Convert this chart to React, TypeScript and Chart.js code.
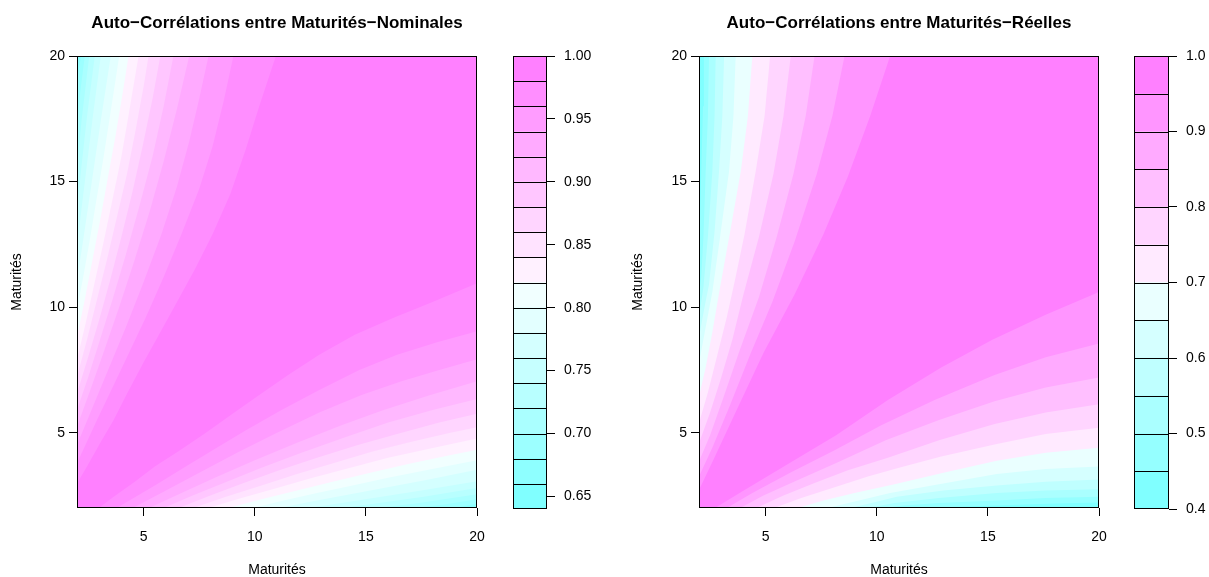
import React, { useEffect, useRef } from "react";
import { Chart, registerables } from "chart.js";

Chart.register(...registerables);

type Pt = [number, number];

const FONT = "'Liberation Sans', Arial, Helvetica, sans-serif";

// ---------------- data ----------------
const maturityRange: [number, number] = [2, 20];
const maturityTicks = [5, 10, 15, 20];

const nominalTitle = "Auto\u2212Corrélations entre Maturités\u2212Nominales";
const realTitle = "Auto\u2212Corrélations entre Maturités\u2212Réelles";
const axisLabel = "Maturités";

// contour levels (colour key boundaries)
const nominalLevels = [0.64, 0.66, 0.68, 0.7, 0.72, 0.74, 0.76, 0.78, 0.8, 0.82, 0.84, 0.86, 0.88, 0.9, 0.92, 0.94, 0.96, 0.98, 1.0];
const nominalKeyTicks = [0.65, 0.7, 0.75, 0.8, 0.85, 0.9, 0.95, 1.0];

const realLevels = [0.4, 0.45, 0.5, 0.55, 0.6, 0.65, 0.7, 0.75, 0.8, 0.85, 0.9, 0.95, 1.0];
const realKeyTicks = [0.4, 0.5, 0.6, 0.7, 0.8, 0.9, 1.0];

// Iso-correlation lines (maturité x, maturité y), read in the upper-left half
// of each (symmetric) correlation matrix. Entry i is the line at level i+1.
const nominalContours: Pt[][] = [
  /* 0.66 */ [[2, 19.7], [2.05, 20]],
  /* 0.68 */ [[2, 19.0], [2.18, 20]],
  /* 0.70 */ [[2, 17.2], [2.15, 18.6], [2.35, 20]],
  /* 0.72 */ [[2, 15.5], [2.2, 17.4], [2.55, 20]],
  /* 0.74 */ [[2, 13.9], [2.2, 15.6], [2.45, 17.6], [2.8, 20]],
  /* 0.76 */ [[2, 12.4], [2.2, 13.9], [2.45, 15.7], [2.7, 17.5], [3.07, 20]],
  /* 0.78 */ [[2, 11.1], [2.25, 12.5], [2.5, 14], [2.8, 15.8], [3.1, 17.6], [3.52, 20]],
  /* 0.80 */ [[2, 9.9], [2.3, 11.3], [2.6, 12.8], [2.9, 14.4], [3.2, 16], [3.5, 17.7], [3.9, 20]],
  /* 0.82 */ [[2, 8.8], [2.35, 10.3], [2.7, 11.9], [3.05, 13.5], [3.4, 15.2], [3.75, 16.9], [4.05, 18.5], [4.32, 20]],
  /* 0.84 */ [[2, 7.9], [2.4, 9.4], [2.8, 11], [3.2, 12.6], [3.6, 14.3], [4.0, 16], [4.35, 17.8], [4.77, 20]],
  /* 0.86 */ [[2, 7.23], [2.45, 8.7], [2.9, 10.3], [3.35, 11.9], [3.8, 13.6], [4.25, 15.3], [4.65, 17.1], [5.0, 18.8], [5.22, 20]],
  /* 0.88 */ [[2, 6.57], [2.5, 8.0], [3.0, 9.5], [3.5, 11.1], [4.0, 12.8], [4.5, 14.6], [4.95, 16.4], [5.4, 18.3], [5.75, 20]],
  /* 0.90 */ [[2, 5.9], [2.5, 7.2], [3.0, 8.6], [3.6, 10.3], [4.2, 12.1], [4.8, 14], [5.4, 16], [5.9, 18], [6.34, 20]],
  /* 0.92 */ [[2, 5.24], [2.6, 6.7], [3.2, 8.2], [3.9, 10], [4.6, 11.9], [5.3, 13.9], [5.9, 15.8], [6.5, 17.9], [7.05, 20]],
  /* 0.94 */ [[2, 4.51], [2.7, 6.0], [3.4, 7.5], [4.2, 9.2], [5.0, 11], [5.8, 12.9], [6.5, 14.8], [7.05, 16.6], [7.5, 18.3], [7.92, 20]],
  /* 0.96 */ [[2, 3.78], [2.9, 5.5], [3.6, 6.8], [4.3, 8.1], [5.1, 9.6], [5.9, 11.2], [6.7, 12.9], [7.5, 14.7], [8.1, 16.4], [8.6, 18.2], [9.04, 20]],
  /* 0.98 */ [[2, 2.98], [2.45, 3.65], [3.05, 4.6], [3.65, 5.5], [4.25, 6.55], [5.0, 7.8], [5.75, 9.0], [6.5, 10.2], [7.3, 11.5], [8.1, 12.9], [8.9, 14.5], [9.6, 16.3], [10.2, 18], [10.95, 20]],
];

const realContours: Pt[][] = [
  /* 0.45 */ [[2, 12], [2.06, 14], [2.12, 16], [2.18, 18], [2.22, 20]],
  /* 0.50 */ [[2, 10.4], [2.1, 11.2], [2.2, 12.8], [2.3, 15.4], [2.4, 17.6], [2.45, 20]],
  /* 0.55 */ [[2, 9.6], [2.2, 10.8], [2.4, 12.8], [2.6, 15.4], [2.7, 17.6], [2.75, 20]],
  /* 0.60 */ [[2, 8.8], [2.25, 10], [2.45, 10.9], [2.7, 13], [2.9, 15.4], [3.05, 17.6], [3.13, 20]],
  /* 0.65 */ [[2, 7.77], [2.3, 9.2], [2.6, 10.6], [2.95, 12.8], [3.35, 15.4], [3.55, 17.6], [3.65, 20]],
  /* 0.70 */ [[2, 6.44], [2.3, 7.6], [2.6, 9.0], [2.95, 10.8], [3.4, 13], [3.88, 15.4], [4.2, 17.6], [4.4, 20]],
  /* 0.75 */ [[2, 5.38], [2.4, 6.6], [2.8, 8.0], [3.25, 9.6], [3.6, 11], [4.05, 12.9], [4.55, 15.4], [4.95, 17.6], [5.2, 20]],
  /* 0.80 */ [[2, 4.58], [2.5, 5.8], [3.0, 7.2], [3.5, 8.7], [4.0, 10.5], [4.7, 12.8], [5.35, 15.3], [5.8, 17.6], [6.13, 20]],
  /* 0.85 */ [[2, 3.85], [2.5, 4.9], [3.1, 6.4], [3.8, 8.2], [4.7, 10.4], [5.5, 12.8], [6.25, 15.3], [6.8, 17.6], [7.2, 20]],
  /* 0.90 */ [[2, 3.25], [2.6, 4.4], [3.4, 6.1], [4.3, 8.1], [5.3, 10.2], [6.3, 12.6], [7.3, 15.3], [8.0, 17.6], [8.55, 20]],
  /* 0.95 */ [[2, 2.72], [2.65, 3.92], [3.7, 5.91], [4.9, 8.17], [6.3, 10.5], [7.6, 12.9], [8.7, 15.2], [9.7, 17.6], [10.6, 20]],
];

// ---------------- helpers ----------------
// R's cm.colors(n)
function cmColors(n: number): string[] {
  const even = n % 2 === 0;
  const k = Math.floor(n / 2);
  const l1 = k + 1 - (even ? 1 : 0);
  const l2 = n - k + (even ? 1 : 0);
  const sEnd = even ? 0.5 / k : 0;
  const cols: string[] = [];
  for (let i = 0; i < l1; i++) {
    const s = l1 === 1 ? 0.5 : 0.5 + ((sEnd - 0.5) * i) / (l1 - 1);
    const c = Math.round(255 * (1 - s));
    cols.push(`rgb(${c},255,255)`);
  }
  for (let i = 1; i < l2; i++) {
    const s = (0.5 * i) / (l2 - 1);
    const c = Math.round(255 * (1 - s));
    cols.push(`rgb(255,${c},255)`);
  }
  return cols;
}

function bandDatasets(contours: Pt[][], colors: string[]) {
  const [lo, hi] = maturityRange;
  const outLo = lo - 10;
  const outHi = hi + 10;
  const ds: any[] = [];
  // lowest level first => drawn last (on top)
  contours.forEach((pts, i) => {
    const first = pts[0];
    const last = pts[pts.length - 1];
    const upper: Pt[] = [...pts, [last[0], outHi], [outLo, outHi], [outLo, first[1]]];
    const lower: Pt[] = upper.map(([x, y]) => [y, x] as Pt); // symmetric matrix
    for (const poly of [upper, lower]) {
      ds.push({
        data: poly.map(([x, y]) => ({ x, y })),
        backgroundColor: colors[i],
        borderColor: "rgba(0,0,0,0)",
        borderWidth: 0,
        pointRadius: 0,
        pointHoverRadius: 0,
        fill: "shape",
        tension: 0,
      });
    }
  });
  return ds;
}

const framePlugin = {
  id: "frame",
  afterDraw(chart: any) {
    const { ctx, chartArea: a } = chart;
    ctx.save();
    ctx.strokeStyle = "#000";
    ctx.lineWidth = 1;
    ctx.strokeRect(Math.round(a.left) + 0.5, Math.round(a.top) + 0.5, Math.round(a.right - a.left) - 1, Math.round(a.bottom - a.top) - 1);
    ctx.restore();
  },
};

function makeMain(canvas: HTMLCanvasElement, title: string, levels: number[], contours: Pt[][], yWidth: number, rightPad: number, yTitlePad: number) {
  const colors = cmColors(levels.length - 1);
  const topColor = colors[colors.length - 1];
  const bg = {
    id: "bg",
    beforeDatasetsDraw(chart: any) {
      const { ctx, chartArea: a } = chart;
      ctx.save();
      ctx.fillStyle = topColor;
      ctx.fillRect(a.left, a.top, a.right - a.left, a.bottom - a.top);
      ctx.restore();
    },
  };
  const tickFont = { family: FONT, size: 14 };
  return new Chart(canvas, {
    type: "line",
    data: { datasets: bandDatasets(contours, colors) },
    options: {
      animation: false,
      responsive: false,
      devicePixelRatio: 1,
      events: [],
      layout: { padding: { left: 0, right: rightPad, top: 0, bottom: 0 } },
      plugins: {
        legend: { display: false },
        tooltip: { enabled: false },
        title: {
          display: true,
          text: title,
          fullSize: false,
          color: "#000",
          font: { family: FONT, size: 17, weight: "bold" },
          padding: { top: 13, bottom: 22.6 },
        },
      },
      scales: {
        x: {
          type: "linear",
          min: maturityRange[0],
          max: maturityRange[1],
          afterBuildTicks: (s: any) => {
            s.ticks = maturityTicks.map((v) => ({ value: v }));
          },
          afterFit: (s: any) => {
            s.height = 69;
            s.paddingLeft = 0;
            s.paddingRight = 0;
          },
          ticks: { font: tickFont, color: "#000", padding: 13, maxRotation: 0, autoSkip: false, callback: (v: any) => String(v) },
          grid: { drawOnChartArea: false, drawTicks: true, tickLength: 8, color: "#000" },
          border: { display: false },
          title: { display: true, text: axisLabel, color: "#000", font: tickFont, padding: { top: 0, bottom: -2 } },
        },
        y: {
          type: "linear",
          min: maturityRange[0],
          max: maturityRange[1],
          afterBuildTicks: (s: any) => {
            s.ticks = maturityTicks.map((v) => ({ value: v }));
          },
          afterFit: (s: any) => {
            s.width = yWidth;
            s.paddingTop = 0;
            s.paddingBottom = 0;
          },
          ticks: { font: tickFont, color: "#000", padding: 4, autoSkip: false, callback: (v: any) => String(v) },
          grid: { drawOnChartArea: false, drawTicks: true, tickLength: 8, color: "#000" },
          border: { display: false },
          title: { display: true, text: axisLabel, color: "#000", font: tickFont, padding: { top: yTitlePad, bottom: 0 } },
        },
      },
    } as any,
    plugins: [bg, framePlugin],
  });
}

function makeKey(canvas: HTMLCanvasElement, levels: number[], ticks: number[], digits: number, leftPad: number, axisWidth: number) {
  const colors = cmColors(levels.length - 1);
  const tickFont = { family: FONT, size: 14 };
  const separators = {
    id: "separators",
    afterDatasetsDraw(chart: any) {
      const { ctx, chartArea: a } = chart;
      const y = chart.scales.y;
      ctx.save();
      ctx.strokeStyle = "#000";
      ctx.lineWidth = 1;
      ctx.beginPath();
      for (const v of levels.slice(1, -1)) {
        const py = Math.round(y.getPixelForValue(v)) + 0.5;
        ctx.moveTo(a.left, py);
        ctx.lineTo(a.right, py);
      }
      ctx.stroke();
      ctx.restore();
    },
  };
  return new Chart(canvas, {
    type: "bar",
    data: {
      labels: [""],
      datasets: levels.slice(0, -1).map((lo, i) => ({
        data: [[lo, levels[i + 1]]],
        backgroundColor: colors[i],
        borderWidth: 0,
        grouped: false,
        barPercentage: 1,
        categoryPercentage: 1,
      })),
    },
    options: {
      animation: false,
      responsive: false,
      devicePixelRatio: 1,
      events: [],
      layout: { padding: { left: leftPad, right: 0, top: 56, bottom: 68 } },
      plugins: { legend: { display: false }, tooltip: { enabled: false }, title: { display: false } },
      scales: {
        x: { display: false },
        y: {
          position: "right",
          min: levels[0],
          max: levels[levels.length - 1],
          afterBuildTicks: (s: any) => {
            s.ticks = ticks.map((v) => ({ value: v }));
          },
          afterFit: (s: any) => {
            s.width = axisWidth;
            s.paddingTop = 0;
            s.paddingBottom = 0;
          },
          ticks: { font: tickFont, color: "#000", padding: 9, autoSkip: false, callback: (v: any) => Number(v).toFixed(digits) },
          grid: { drawOnChartArea: false, drawTicks: true, tickLength: 8, color: "#000" },
          border: { display: false },
        },
      },
    } as any,
    plugins: [separators, framePlugin],
  });
}

function ChartCanvas(props: { left: number; width: number; make: (c: HTMLCanvasElement) => Chart }) {
  const ref = useRef<HTMLCanvasElement>(null);
  useEffect(() => {
    const chart = props.make(ref.current as HTMLCanvasElement);
    return () => chart.destroy();
  }, []);
  return (
    <canvas
      ref={ref}
      width={props.width}
      height={577}
      style={{ position: "absolute", left: props.left, top: 0, width: props.width, height: 577 }}
    />
  );
}

export default function App() {
  return (
    <div style={{ position: "absolute", left: 0, top: 0, width: 1209, height: 577, background: "#fff", overflow: "hidden" }}>
      <ChartCanvas left={0} width={490} make={(c) => makeMain(c, nominalTitle, nominalLevels, nominalContours, 77, 13, 8.6)} />
      <ChartCanvas left={500} width={110} make={(c) => makeKey(c, nominalLevels, nominalKeyTicks, 2, 13, 63)} />
      <ChartCanvas left={600} width={510} make={(c) => makeMain(c, realTitle, realLevels, realContours, 99, 11, 29.6)} />
      <ChartCanvas left={1120} width={89} make={(c) => makeKey(c, realLevels, realKeyTicks, 1, 14, 40)} />
    </div>
  );
}
